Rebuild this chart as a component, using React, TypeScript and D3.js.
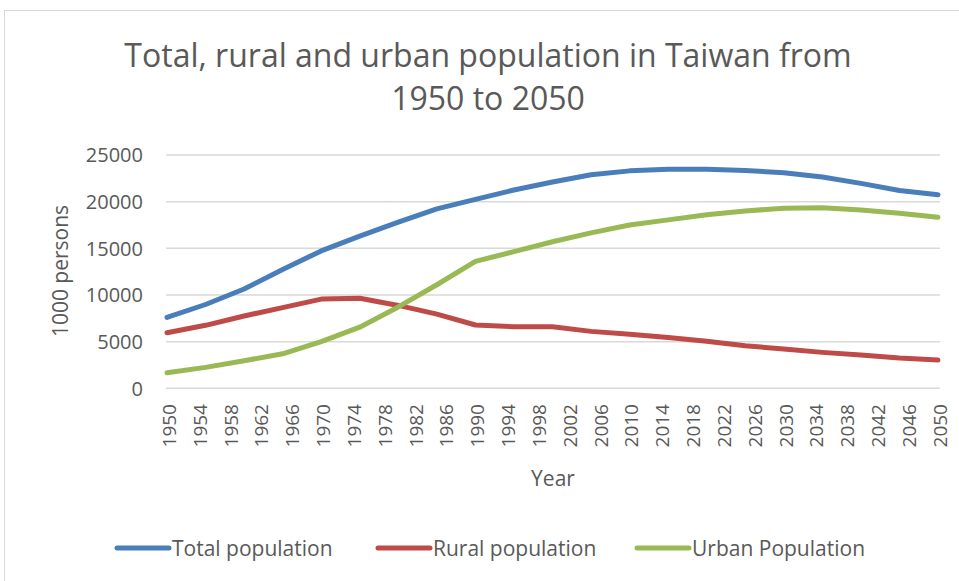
import React from "react";
import * as d3 from "d3";

const years = [1950, 1955, 1960, 1965, 1970, 1975, 1980, 1985, 1990, 1995, 2000, 2005, 2010, 2015, 2020, 2025, 2030, 2035, 2040, 2045, 2050];
const totalPop = [7600, 8980, 10640, 12740, 14720, 16310, 17800, 19220, 20250, 21250, 22100, 22880, 23300, 23460, 23460, 23350, 23100, 22650, 21960, 21200, 20750];
const ruralPop = [5960, 6750, 7750, 8650, 9560, 9650, 8880, 7950, 6780, 6600, 6600, 6100, 5800, 5450, 5050, 4550, 4220, 3850, 3570, 3250, 3030];
const urbanPop = [1675, 2240, 2950, 3700, 5000, 6550, 8720, 11100, 13600, 14650, 15700, 16650, 17500, 18050, 18600, 19000, 19300, 19350, 19100, 18750, 18320];
const yTicks = [0, 5000, 10000, 15000, 20000, 25000];
const xTickYears = d3.range(1950, 2051, 4);
const seriesNames = ["Total population", "Rural population", "Urban Population"];
const titleLines = ["Total, rural and urban population in Taiwan from", "1950 to 2050"];

const W = 959;
const H = 581;
const colors = ["#4a7ebb", "#be4b48", "#98b954"];
const font = "'Open Sans', 'Noto Sans', sans-serif";
const textColor = "#595959";

export default function App() {
  const x = d3.scaleLinear().domain([1950, 2050]).range([167, 938]);
  const y = d3.scaleLinear().domain([0, 25000]).range([388.3, 155]);
  const series = [totalPop, ruralPop, urbanPop];
  const line = d3
    .line<number>()
    .x((_, i) => x(years[i]))
    .y((d) => y(d))
    .curve(d3.curveLinear);

  const legendX = [117, 378, 637];

  return (
    <div style={{ position: "absolute", left: 0, top: 0 }}>
      <svg width={W} height={H} style={{ display: "block", background: "#fff" }}>
        <rect x={4.5} y={10.5} width={W + 10} height={H + 10} fill="#fff" stroke="#d9d9d9" strokeWidth={1} />
        {titleLines.map((t, i) => (
          <text
            key={i}
            x={488}
            y={67 + i * 43}
            textAnchor="middle"
            fontFamily={font}
            fontSize={32}
            fill={textColor}
          >
            {t}
          </text>
        ))}
        {yTicks.map((v) => (
          <g key={v}>
            <line x1={166} x2={940} y1={y(v)} y2={y(v)} stroke="#d9d9d9" strokeWidth={1.5} />
            <text
              x={143}
              y={y(v)}
              dy="0.36em"
              textAnchor="end"
              fontFamily={font}
              fontSize={20}
              fill={textColor}
            >
              {v}
            </text>
          </g>
        ))}
        {xTickYears.map((yr) => (
          <text
            key={yr}
            transform={`translate(${x(yr) + 2},${404}) rotate(-90)`}
            dy="0.36em"
            textAnchor="end"
            fontFamily={font}
            fontSize={19}
            fill={textColor}
          >
            {yr}
          </text>
        ))}
        <text
          transform={`translate(61,${271}) rotate(-90)`}
          textAnchor="middle"
          dy="0.35em"
          fontFamily={font}
          fontSize={21}
          fill={textColor}
        >
          1000 persons
        </text>
        <text x={553} y={486} textAnchor="middle" fontFamily={font} fontSize={21} fill={textColor}>
          Year
        </text>
        {series.map((s, i) => (
          <path
            key={i}
            d={line(s) || ""}
            fill="none"
            stroke={colors[i]}
            strokeWidth={5}
            strokeLinejoin="round"
            strokeLinecap="round"
          />
        ))}
        {seriesNames.map((n, i) => (
          <g key={n}>
            <line
              x1={legendX[i]}
              x2={legendX[i] + 52}
              y1={548}
              y2={548}
              stroke={colors[i]}
              strokeWidth={5}
              strokeLinecap="round"
            />
            <text
              x={legendX[i] + 55}
              y={548}
              dy="0.36em"
              fontFamily={font}
              fontSize={21}
              fill={textColor}
            >
              {n}
            </text>
          </g>
        ))}
      </svg>
    </div>
  );
}
